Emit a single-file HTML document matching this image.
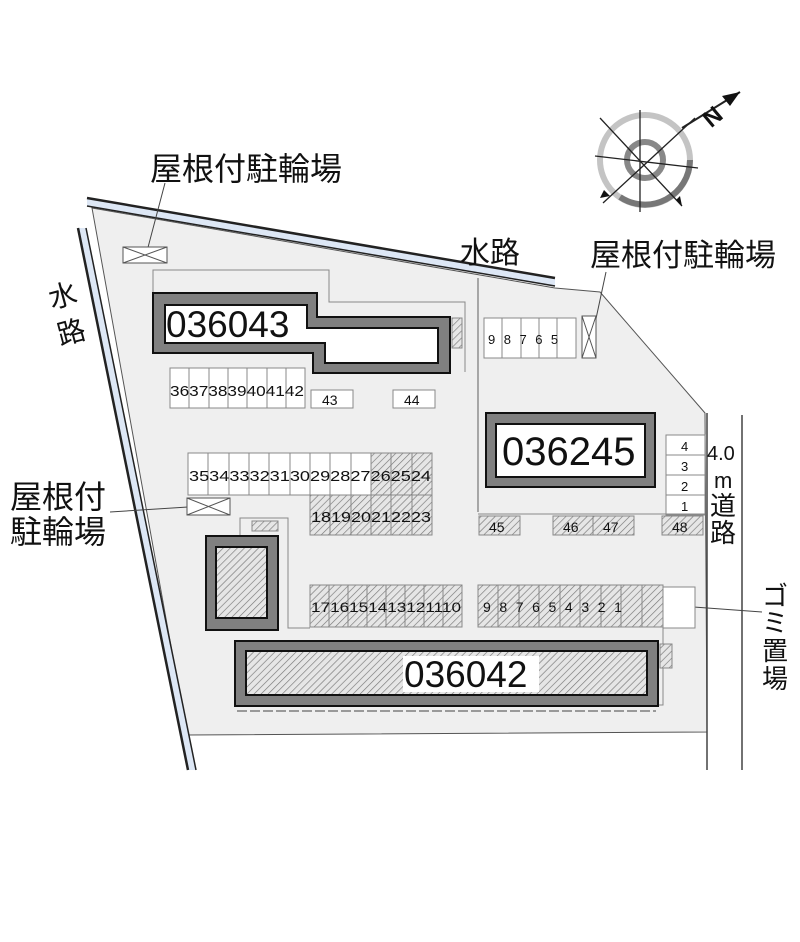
<!DOCTYPE html>
<html><head><meta charset="utf-8"><style>
html,body{margin:0;padding:0;background:#fff;}
svg{display:block;}
text{font-family:"Liberation Sans","Noto Sans CJK JP",sans-serif;fill:#111;}
</style></head><body>
<svg width="800" height="942" viewBox="0 0 800 942" xmlns="http://www.w3.org/2000/svg">
<defs>
<pattern id="h" width="5" height="5" patternUnits="userSpaceOnUse" patternTransform="rotate(45)">
<rect width="5" height="5" fill="#e6e6e6"/><line x1="0" y1="0" x2="0" y2="5" stroke="#777" stroke-width="1.3"/>
</pattern>
</defs>
<polygon points="92,208 555,288 600,292 705,413 707,732 187,735" fill="#efefef" stroke="#555" stroke-width="1"/>
<line x1="478" y1="278" x2="478" y2="512" stroke="#777" stroke-width="1.2"/>
<line x1="707" y1="413" x2="707" y2="770" stroke="#444" stroke-width="1.5"/>
<line x1="742" y1="415" x2="742" y2="770" stroke="#444" stroke-width="1.5"/>
<polygon points="87,198 555,278 555,286 87,206" fill="#dde7f5"/>
<line x1="87" y1="198" x2="555" y2="278" stroke="#222" stroke-width="2.5"/>
<line x1="87" y1="206" x2="555" y2="286" stroke="#222" stroke-width="1.5"/>
<polygon points="78,228 86,228 196,770 188,770" fill="#dde7f5"/>
<line x1="78" y1="228" x2="188" y2="770" stroke="#222" stroke-width="2.5"/>
<line x1="86" y1="228" x2="196" y2="770" stroke="#222" stroke-width="1.5"/>

<g stroke-width="6" fill="none">
<circle cx="645" cy="160" r="45" stroke="#c4c4c4"/>
<path d="M690,160 A45,45 0 0 1 620,197" stroke="#777"/>
<circle cx="645" cy="160" r="18" stroke="#888"/>
</g>
<g stroke="#222" stroke-width="1.3">
<line x1="600" y1="118" x2="682" y2="206"/><line x1="603" y1="203" x2="695" y2="118"/>
<line x1="640" y1="110" x2="640" y2="212"/><line x1="595" y1="156" x2="698" y2="168"/>
<line x1="682" y1="128" x2="740" y2="92" stroke-width="2"/>
</g>
<polygon points="740,92 722,96 730,106" fill="#111"/>
<polygon points="600,198 604,190 610,196" fill="#111"/>
<polygon points="682,206 676,200 680,196" fill="#111"/>
<text x="703" y="130" font-size="24" font-weight="bold" transform="rotate(-40 705 118)">N</text>

<text x="150" y="180" font-size="32">屋根付駐輪場</text>
<line x1="165" y1="183" x2="146" y2="255" stroke="#444"/>
<text x="460" y="263" font-size="30">水路</text>
<text x="590" y="266" font-size="31">屋根付駐輪場</text>
<line x1="606" y1="272" x2="588" y2="356" stroke="#444"/>
<text x="50" y="305" font-size="28" transform="rotate(-15 65 300)">水</text>
<text x="58" y="342" font-size="28" transform="rotate(-15 72 335)">路</text>
<text x="10" y="508" font-size="32">屋根付</text>
<text x="10" y="543" font-size="32">駐輪場</text>
<line x1="110" y1="512" x2="188" y2="507" stroke="#444"/>
<text x="707" y="460" font-size="20">4.0</text>
<text x="714" y="488" font-size="22">m</text>
<text x="710" y="515" font-size="26">道</text>
<text x="710" y="542" font-size="26">路</text>
<text x="762" y="605" font-size="26">ゴ</text>
<text x="762" y="632" font-size="26">ミ</text>
<text x="762" y="660" font-size="26">置</text>
<text x="762" y="688" font-size="26">場</text>
<line x1="680" y1="606" x2="762" y2="612" stroke="#444"/>

<g fill="#fff" stroke="#555">
<rect x="123" y="247" width="44" height="16"/><path d="M123,247 L167,263 M167,247 L123,263" fill="none"/>
<rect x="187" y="498" width="43" height="17"/><path d="M187,498 L230,515 M230,498 L187,515" fill="none"/>
<rect x="582" y="316" width="14" height="42"/><path d="M582,316 L596,358 M596,316 L582,358" fill="none"/>
</g>

<polyline points="153,293 153,270 329,270 329,302 465,302 465,372" fill="none" stroke="#888" stroke-width="1"/>
<polygon points="153,293 317,293 317,317 450,317 450,373 313,373 313,353 153,353" fill="#808080" stroke="#111" stroke-width="2"/>
<polygon points="165,305 307,305 307,328 438,328 438,363 325,363 325,343 165,343" fill="#fff" stroke="#111" stroke-width="2"/>
<text x="166" y="337" font-size="37">036043</text>
<rect x="452" y="318" width="10" height="30" fill="url(#h)" stroke="#888"/>
<g fill="#fff" stroke="#888">
<rect x="170" y="368" width="135" height="40"/>
<rect x="311" y="390" width="42" height="18"/><rect x="393" y="390" width="42" height="18"/>
</g>
<g stroke="#888"><line x1="189" y1="368" x2="189" y2="408"/><line x1="209" y1="368" x2="209" y2="408"/><line x1="228" y1="368" x2="228" y2="408"/><line x1="247" y1="368" x2="247" y2="408"/><line x1="267" y1="368" x2="267" y2="408"/><line x1="286" y1="368" x2="286" y2="408"/></g>
<text x="170" y="396" font-size="15" textLength="134" lengthAdjust="spacingAndGlyphs">36373839404142</text>
<text x="322" y="405" font-size="14">43</text><text x="404" y="405" font-size="14">44</text>

<rect x="188" y="453" width="244" height="42" fill="#fff" stroke="#888"/>
<rect x="371" y="453" width="61" height="42" fill="url(#h)" stroke="#888"/>
<rect x="310" y="495" width="122" height="40" fill="url(#h)" stroke="#888"/>
<g stroke="#888">
<line x1="208" y1="453" x2="208" y2="495"/><line x1="229" y1="453" x2="229" y2="495"/><line x1="249" y1="453" x2="249" y2="495"/><line x1="269" y1="453" x2="269" y2="495"/><line x1="290" y1="453" x2="290" y2="495"/><line x1="310" y1="453" x2="310" y2="495"/><line x1="330" y1="453" x2="330" y2="535"/><line x1="351" y1="453" x2="351" y2="535"/><line x1="371" y1="453" x2="371" y2="535"/><line x1="391" y1="453" x2="391" y2="535"/><line x1="412" y1="453" x2="412" y2="535"/>
</g>
<text x="189" y="481" font-size="15" textLength="242" lengthAdjust="spacingAndGlyphs">353433323130292827262524</text>
<text x="311" y="522" font-size="15" textLength="120" lengthAdjust="spacingAndGlyphs">181920212223</text>

<rect x="484" y="318" width="92" height="40" fill="#fff" stroke="#888"/>
<g stroke="#888"><line x1="502" y1="318" x2="502" y2="358"/><line x1="521" y1="318" x2="521" y2="358"/><line x1="539" y1="318" x2="539" y2="358"/><line x1="557" y1="318" x2="557" y2="358"/></g>
<text x="488" y="344" font-size="13" letter-spacing="8.5">98765</text>

<rect x="486" y="413" width="169" height="74" fill="#808080" stroke="#111" stroke-width="2"/>
<rect x="496" y="424" width="149" height="53" fill="#fff" stroke="#111" stroke-width="2"/>
<text x="502" y="465" font-size="40">036245</text>
<rect x="666" y="435" width="39" height="80" fill="#fff" stroke="#888"/>
<g stroke="#888"><line x1="666" y1="455" x2="705" y2="455"/><line x1="666" y1="475" x2="705" y2="475"/><line x1="666" y1="495" x2="705" y2="495"/></g>
<g font-size="13"><text x="681" y="451">4</text><text x="681" y="471">3</text><text x="681" y="491">2</text><text x="681" y="511">1</text></g>
<line x1="478" y1="514" x2="705" y2="514" stroke="#888"/>
<g fill="url(#h)" stroke="#888">
<rect x="479" y="516" width="41" height="19"/><rect x="553" y="516" width="40" height="19"/><rect x="593" y="516" width="41" height="19"/><rect x="662" y="516" width="41" height="19"/>
</g>
<g font-size="14"><text x="489" y="532">45</text><text x="563" y="532">46</text><text x="603" y="532">47</text><text x="672" y="532">48</text></g>

<polyline points="240,628 240,518 288,518 288,628 310,628" fill="none" stroke="#888"/>
<rect x="252" y="521" width="26" height="10" fill="url(#h)" stroke="#888"/>
<rect x="206" y="536" width="72" height="94" fill="#808080" stroke="#111" stroke-width="2"/>
<rect x="216" y="547" width="51" height="71" fill="url(#h)" stroke="#111" stroke-width="2"/>

<rect x="310" y="585" width="152" height="42" fill="url(#h)" stroke="#888"/>
<rect x="478" y="585" width="185" height="42" fill="url(#h)" stroke="#888"/>
<g stroke="#888">
<line x1="329" y1="585" x2="329" y2="627"/><line x1="348" y1="585" x2="348" y2="627"/><line x1="367" y1="585" x2="367" y2="627"/><line x1="386" y1="585" x2="386" y2="627"/><line x1="405" y1="585" x2="405" y2="627"/><line x1="424" y1="585" x2="424" y2="627"/><line x1="443" y1="585" x2="443" y2="627"/>
<line x1="498" y1="585" x2="498" y2="627"/><line x1="519" y1="585" x2="519" y2="627"/><line x1="539" y1="585" x2="539" y2="627"/><line x1="560" y1="585" x2="560" y2="627"/><line x1="580" y1="585" x2="580" y2="627"/><line x1="601" y1="585" x2="601" y2="627"/><line x1="621" y1="585" x2="621" y2="627"/><line x1="642" y1="585" x2="642" y2="627"/>
</g>
<text x="311" y="612" font-size="14" textLength="150" lengthAdjust="spacingAndGlyphs">1716151413121110</text>
<text x="483" y="612" font-size="14" letter-spacing="8.6">987654321</text>
<rect x="663" y="587" width="32" height="41" fill="#fff" stroke="#888"/>
<polyline points="663,628 663,705 658,705" fill="none" stroke="#888"/>

<rect x="235" y="641" width="423" height="65" fill="#808080" stroke="#111" stroke-width="2"/>
<rect x="246" y="651" width="401" height="44" fill="url(#h)" stroke="#111" stroke-width="2"/>
<rect x="403" y="656" width="136" height="36" fill="#fff"/>
<text x="404" y="687" font-size="37">036042</text>
<rect x="660" y="644" width="12" height="24" fill="url(#h)" stroke="#888"/>
<line x1="237" y1="711" x2="656" y2="711" stroke="#999" stroke-width="2" stroke-dasharray="10,3"/>
</svg>
</body></html>
